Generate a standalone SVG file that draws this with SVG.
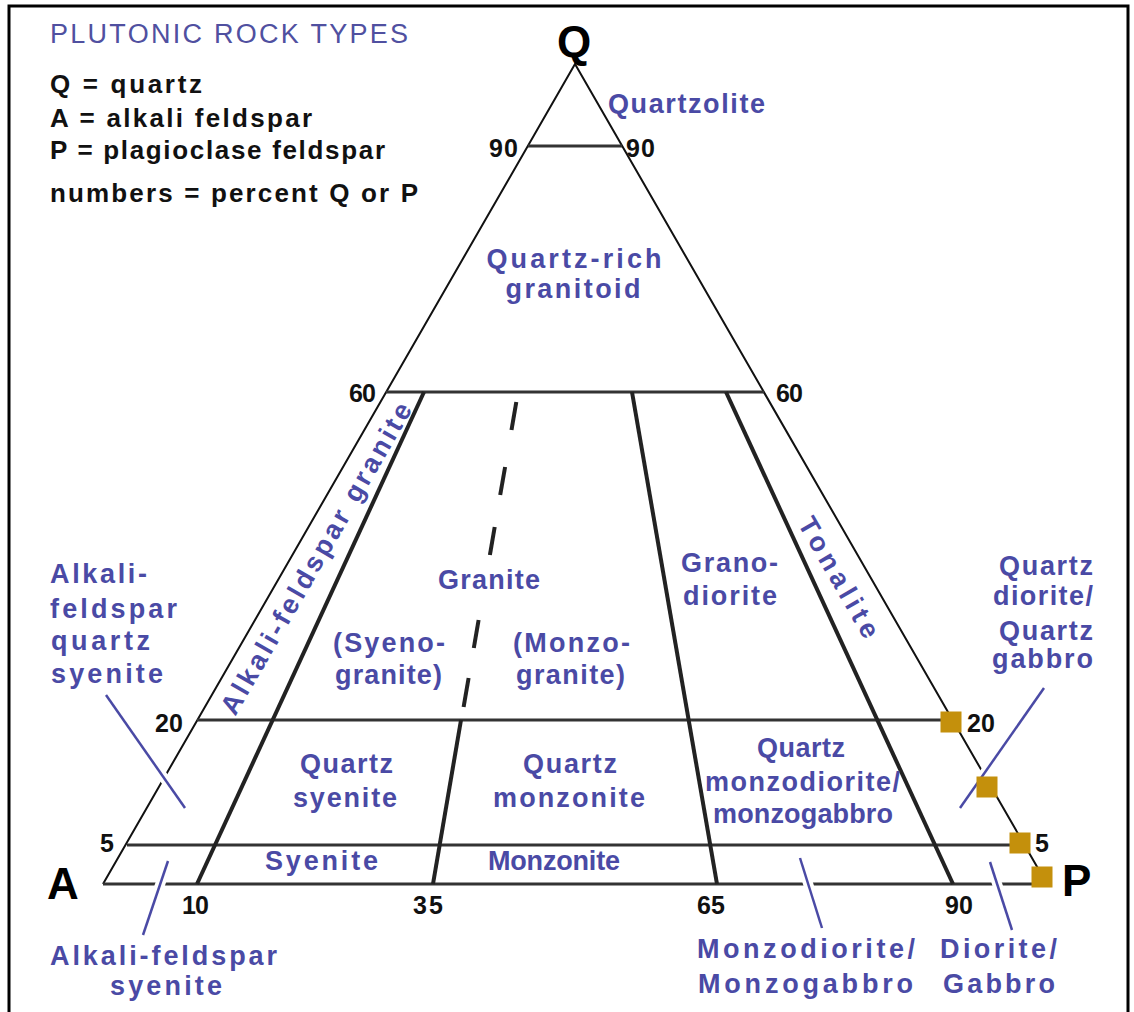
<svg xmlns="http://www.w3.org/2000/svg" width="1134" height="1012" viewBox="0 0 1134 1012">
<style>
.blk{font-family:"Liberation Sans",Arial,sans-serif;font-weight:bold;fill:#111;font-size:26px;}
.num{font-family:"Liberation Sans",Arial,sans-serif;font-weight:bold;fill:#111;font-size:25px;}
.big{font-family:"Liberation Sans",Arial,sans-serif;font-weight:bold;fill:#000;font-size:44px;}
.lbl{font-family:"Liberation Sans",Arial,sans-serif;font-weight:bold;fill:#4A4AA5;font-size:27px;}
.edge{stroke:#111;stroke-width:2;fill:none;}
.hl{stroke:#333;stroke-width:3;fill:none;}
.div{stroke:#222;stroke-width:4;fill:none;}
.halo{stroke:#fff;stroke-width:10;}
.ptr{stroke:#4A4AA5;stroke-width:2.5;}
.sq{fill:#C4900C;}
</style>
<rect x="0" y="0" width="1134" height="1012" fill="#fff"/>
<path d="M9,1012 V6 H1128 V1012" fill="none" stroke="#000" stroke-width="3"/>

<g id="legend">
<text x="50" y="43" font-family="Liberation Sans,Arial,sans-serif" font-size="27" fill="#5050A0" textLength="358" lengthAdjust="spacing">PLUTONIC ROCK TYPES</text>
<text class="blk" x="50" y="93" textLength="152" lengthAdjust="spacing">Q = quartz</text>
<text class="blk" x="50" y="127" textLength="262" lengthAdjust="spacing">A = alkali feldspar</text>
<text class="blk" x="50" y="159" textLength="335" lengthAdjust="spacing">P = plagioclase feldspar</text>
<text class="blk" x="50" y="202" textLength="368" lengthAdjust="spacing">numbers = percent Q or P</text>
</g>

<g id="triangle">
<path class="edge" d="M103,884 L575,64 L1047,884"/>
<line class="hl" x1="103" y1="884" x2="1045" y2="884"/>
<line class="hl" x1="528" y1="146" x2="622" y2="146"/>
<line class="hl" x1="386" y1="392" x2="764" y2="392"/>
<line class="hl" x1="197" y1="720" x2="953" y2="720"/>
<line class="hl" x1="127" y1="845" x2="1023" y2="845"/>
</g>

<g id="dividers">
<line class="div" x1="197" y1="884" x2="424" y2="392"/>
<line class="div" x1="433" y1="884" x2="461" y2="720"/>
<line class="div" x1="717" y1="884" x2="632" y2="392"/>
<line class="div" x1="953" y1="884" x2="726" y2="392"/>
<g class="div">
<line x1="516.3" y1="402" x2="511.5" y2="430"/>
<line x1="505.1" y1="467" x2="500.2" y2="495"/>
<line x1="494.7" y1="527" x2="489.9" y2="555"/>
<line x1="478.6" y1="620" x2="473.8" y2="648"/>
<line x1="468.6" y1="678" x2="463.6" y2="707"/>
</g>
</g>

<g id="connectors">
<g class="halo">
<line x1="106" y1="695" x2="185" y2="808"/>
<line x1="168" y1="861" x2="143" y2="935"/>
<line x1="1044" y1="688" x2="960" y2="808"/>
<line x1="800" y1="858" x2="822" y2="928"/>
<line x1="990" y1="862" x2="1012" y2="930"/>
</g>
<g class="ptr">
<line x1="106" y1="695" x2="185" y2="808"/>
<line x1="168" y1="861" x2="143" y2="935"/>
<line x1="1044" y1="688" x2="960" y2="808"/>
<line x1="800" y1="858" x2="822" y2="928"/>
<line x1="990" y1="862" x2="1012" y2="930"/>
</g>
</g>

<g id="markers">
<rect class="sq" x="940.5" y="711.5" width="21" height="21"/>
<rect class="sq" x="976.5" y="776.5" width="21" height="21"/>
<rect class="sq" x="1009.5" y="832.5" width="21" height="21"/>
<rect class="sq" x="1031.5" y="866.5" width="21" height="21"/>
</g>

<g id="corners">
<text class="big" x="574" y="57" text-anchor="middle" font-size="42">Q</text>
<text class="big" x="47" y="899">A</text>
<text class="big" x="1062" y="896">P</text>
</g>

<g id="numbers">
<text class="num" x="489" y="157" textLength="29">90</text>
<text class="num" x="626" y="157" textLength="29">90</text>
<text class="num" x="376" y="402" text-anchor="end" textLength="27">60</text>
<text class="num" x="776" y="402" textLength="27">60</text>
<text class="num" x="155" y="732" textLength="28">20</text>
<text class="num" x="967" y="732" textLength="28">20</text>
<text class="num" x="100" y="852">5</text>
<text class="num" x="1035" y="852">5</text>
<text class="num" x="182" y="914" textLength="27">10</text>
<text class="num" x="413" y="914" textLength="30">35</text>
<text class="num" x="697" y="914" textLength="28">65</text>
<text class="num" x="945" y="914" textLength="28">90</text>
</g>

<g id="labels">
<text class="lbl" x="608" y="113" textLength="157" lengthAdjust="spacing">Quartzolite</text>
<text class="lbl" x="574" y="268" text-anchor="middle" textLength="175" lengthAdjust="spacing">Quartz-rich</text>
<text class="lbl" x="573" y="298" text-anchor="middle" textLength="135" lengthAdjust="spacing">granitoid</text>
<text class="lbl" x="489" y="589" text-anchor="middle" textLength="102" lengthAdjust="spacing">Granite</text>
<text class="lbl" x="333" y="652" textLength="112" lengthAdjust="spacing">(Syeno-</text>
<text class="lbl" x="335" y="684" textLength="107" lengthAdjust="spacing">granite)</text>
<text class="lbl" x="513" y="652" textLength="117" lengthAdjust="spacing">(Monzo-</text>
<text class="lbl" x="516" y="684" textLength="109" lengthAdjust="spacing">granite)</text>
<text class="lbl" x="681" y="572" textLength="97" lengthAdjust="spacing">Grano-</text>
<text class="lbl" x="683" y="605" textLength="94" lengthAdjust="spacing">diorite</text>
<text class="lbl" x="300" y="773" textLength="93" lengthAdjust="spacing">Quartz</text>
<text class="lbl" x="293" y="807" textLength="104" lengthAdjust="spacing">syenite</text>
<text class="lbl" x="523" y="773" textLength="94" lengthAdjust="spacing">Quartz</text>
<text class="lbl" x="493" y="807" textLength="152" lengthAdjust="spacing">monzonite</text>
<text class="lbl" x="801" y="757" text-anchor="middle" textLength="88" lengthAdjust="spacing">Quartz</text>
<text class="lbl" x="705" y="791" textLength="195" lengthAdjust="spacing">monzodiorite/</text>
<text class="lbl" x="713" y="823" textLength="180" lengthAdjust="spacing">monzogabbro</text>
<text class="lbl" x="265" y="870" textLength="113" lengthAdjust="spacing">Syenite</text>
<text class="lbl" x="488" y="870" textLength="132" lengthAdjust="spacing">Monzonite</text>
<text class="lbl" x="50" y="583" textLength="97" lengthAdjust="spacing">Alkali-</text>
<text class="lbl" x="50" y="618" textLength="127" lengthAdjust="spacing">feldspar</text>
<text class="lbl" x="51" y="650" textLength="99" lengthAdjust="spacing">quartz</text>
<text class="lbl" x="51" y="683" textLength="112" lengthAdjust="spacing">syenite</text>
<text class="lbl" x="999" y="575" textLength="94" lengthAdjust="spacing">Quartz</text>
<text class="lbl" x="993" y="605" textLength="100" lengthAdjust="spacing">diorite/</text>
<text class="lbl" x="999" y="640" textLength="94" lengthAdjust="spacing">Quartz</text>
<text class="lbl" x="992" y="668" textLength="101" lengthAdjust="spacing">gabbro</text>
<text class="lbl" x="50" y="965" textLength="227" lengthAdjust="spacing">Alkali-feldspar</text>
<text class="lbl" x="110" y="995" textLength="112" lengthAdjust="spacing">syenite</text>
<text class="lbl" x="697" y="958" textLength="218" lengthAdjust="spacing">Monzodiorite/</text>
<text class="lbl" x="698" y="993" textLength="215" lengthAdjust="spacing">Monzogabbro</text>
<text class="lbl" x="940" y="958" textLength="117" lengthAdjust="spacing">Diorite/</text>
<text class="lbl" x="943" y="993" textLength="112" lengthAdjust="spacing">Gabbro</text>
<text class="lbl" transform="translate(324,563) rotate(-60)" x="0" y="0" text-anchor="middle" textLength="355" lengthAdjust="spacing">Alkali-feldspar granite</text>
<text class="lbl" transform="translate(831,582) rotate(60)" x="0" y="0" text-anchor="middle" textLength="135" lengthAdjust="spacing">Tonalite</text>
</g>
</svg>
